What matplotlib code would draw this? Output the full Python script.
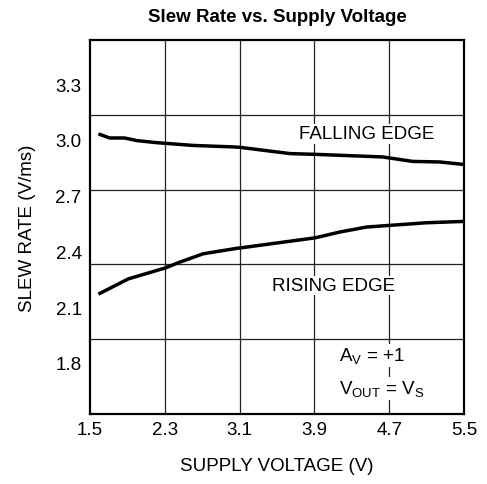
import numpy as np
import matplotlib
matplotlib.use('Agg')
import matplotlib.pyplot as plt

plt.rcParams['font.family'] = ['Liberation Sans', 'DejaVu Sans']
plt.rcParams['mathtext.fontset'] = 'custom'
plt.rcParams['mathtext.rm'] = 'Liberation Sans'

#---    Data (slew rate in V/us)
v_fall = [1.59, 1.71, 1.87, 2.00, 2.21, 2.60, 3.03, 3.10, 3.64, 3.91, 4.63, 4.95, 5.24, 5.49]
sr_fall = [3.032, 3.010, 3.010, 2.996, 2.985, 2.970, 2.962, 2.960, 2.926, 2.922, 2.908, 2.884, 2.881, 2.868]

v_rise = [1.59, 1.91, 2.30, 2.46, 2.71, 3.09, 3.10, 3.91, 4.17, 4.46, 4.71, 5.10, 5.49]
sr_rise = [2.170, 2.252, 2.310, 2.342, 2.387, 2.418, 2.418, 2.473, 2.504, 2.531, 2.540, 2.554, 2.561]

x_ticks = [1.5, 2.3, 3.1, 3.9, 4.7, 5.5]
y_ticks = [1.8, 2.1, 2.4, 2.7, 3.0, 3.3]
y_lim = (1.525, 3.537)

fs = 13.5

#---    Graph
fig = plt.figure(figsize=(4.87, 4.85), dpi=100)
ax = fig.add_axes([0.1848, 0.1443, 0.768, 0.7711])

ax.plot(v_fall, sr_fall, color='black', linewidth=2.5, solid_capstyle='butt', zorder=3)
ax.plot(v_rise, sr_rise, color='black', linewidth=2.5, solid_capstyle='butt', zorder=3)

ax.set_xlim(x_ticks[0], x_ticks[-1])
ax.set_ylim(*y_lim)
ax.set_xticks(x_ticks)
ax.set_xticklabels([f'{t:.1f}' for t in x_ticks])
ax.set_yticks(y_ticks)
ax.set_yticklabels([f'{t:.1f}' for t in y_ticks])
ax.tick_params(axis='both', length=0, labelsize=fs)
ax.tick_params(axis='x', pad=5)
ax.tick_params(axis='y', pad=6)

# grid divides the box into 5 x 5 equal cells
for xv in x_ticks[1:-1]:
    ax.axvline(xv, color='#222222', linewidth=0.9, zorder=1)
for yv in np.linspace(y_lim[0], y_lim[1], 6)[1:-1]:
    ax.axhline(yv, color='#222222', linewidth=0.9, zorder=1)

for s in ax.spines.values():
    s.set_linewidth(1.6)

box = dict(facecolor='white', edgecolor='none', pad=1.0)
ax.text(4.46, 3.033, 'FALLING EDGE', fontsize=fs, ha='center', va='center', bbox=box, zorder=2)
ax.text(4.10, 2.216, 'RISING EDGE', fontsize=fs, ha='center', va='center', bbox=box, zorder=2)
ax.text(4.16, 1.84, r'A$_\mathrm{V}$ = +1', fontsize=fs, ha='left', va='center', bbox=box, zorder=2)
ax.text(4.16, 1.66, r'V$_\mathrm{OUT}$ = V$_\mathrm{S}$', fontsize=fs, ha='left', va='center', bbox=box, zorder=2)

ax.set_xlabel('SUPPLY VOLTAGE (V)', fontsize=fs, labelpad=14)
ax.set_ylabel('SLEW RATE (V/ms)', fontsize=fs, labelpad=14)
ax.set_title('Slew Rate vs. Supply Voltage', fontsize=fs, fontweight='bold', pad=14)

plt.savefig('out.png', dpi=100)
